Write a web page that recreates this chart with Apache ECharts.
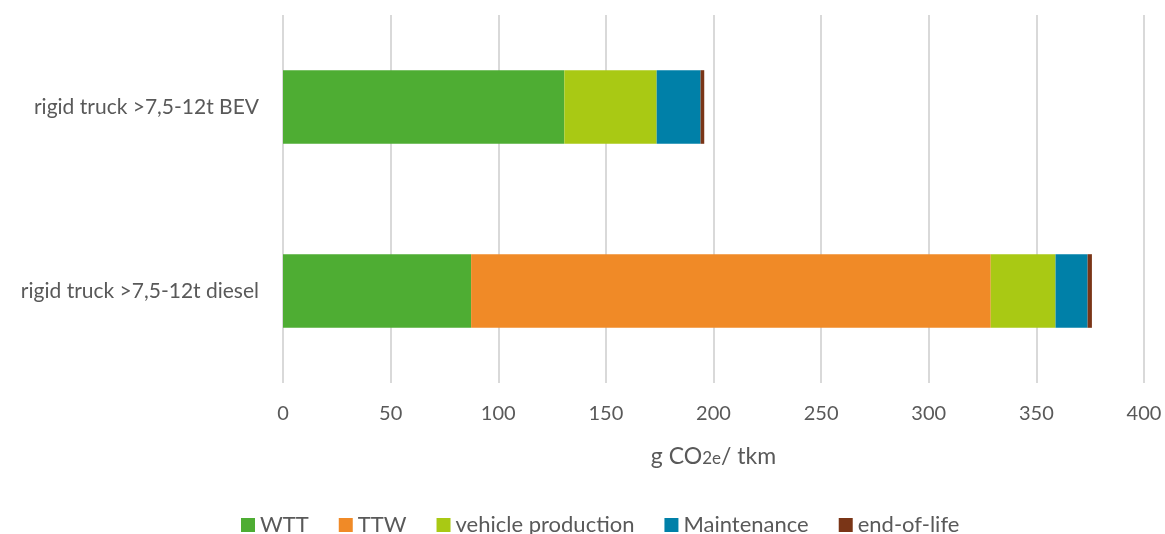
<!DOCTYPE html>
<html><head><meta charset="utf-8">
<script src="https://cdn.jsdelivr.net/npm/echarts@6/dist/echarts.min.js"></script>
<style>html,body{margin:0;padding:0;background:#fff}#c{width:1165px;height:534px}</style>
</head><body><div id="c"></div>
<script>
const categories = ['rigid truck >7,5-12t BEV', 'rigid truck >7,5-12t diesel'];
const seriesNames = ['WTT', 'TTW', 'vehicle production', 'Maintenance', 'end-of-life'];
const WTT = [130.7, 87.4];
const TTW = [0, 241.4];
const vehicleProduction = [42.9, 30.1];
const maintenance = [20.4, 14.9];
const endOfLife = [1.7, 2.0];
const xTicks = [0, 50, 100, 150, 200, 250, 300, 350, 400];
const colors = ['#4EAD33', '#F08A27', '#A9C914', '#0080A8', '#7A3517'];
const values = [WTT, TTW, vehicleProduction, maintenance, endOfLife];
const FONT = 'Lato';
const chart = echarts.init(document.getElementById('c'));
chart.setOption({
  animation: false,
  textStyle: { fontFamily: FONT },
  grid: { left: 283, right: 21, top: 15, bottom: 151, containLabel: false },
  legend: {
    top: 514, left: 241, padding: 0,
    icon: 'rect', itemWidth: 14, itemHeight: 14, itemGap: 30,
    textStyle: { fontFamily: FONT, fontSize: 22, color: '#595959', lineHeight: 22 },
    data: seriesNames
  },
  xAxis: {
    type: 'value', min: xTicks[0], max: xTicks[xTicks.length - 1], interval: 50,
    axisLine: { show: false }, axisTick: { show: false },
    splitLine: { lineStyle: { color: '#D9D9D9', width: 2 } },
    axisLabel: { fontFamily: FONT, fontSize: 20, color: '#595959', margin: 21 },
    name: 'g CO{sub|2e}/ tkm', nameLocation: 'middle', nameGap: 62,
    nameTextStyle: { fontFamily: FONT, fontSize: 23, color: '#595959',
      rich: { sub: { fontFamily: FONT, fontSize: 17, color: '#595959', padding: [4, 0, 0, 0] } } }
  },
  yAxis: {
    type: 'category', data: categories, inverse: true,
    axisLine: { show: false }, axisTick: { show: false },
    axisLabel: { fontFamily: FONT, fontSize: 21, color: '#595959', margin: 24 }
  },
  series: seriesNames.map((n, i) => ({
    name: n, type: 'bar', stack: 'total', data: values[i],
    barCategoryGap: '60%',
    itemStyle: { color: colors[i] }
  }))
});
</script></body></html>
